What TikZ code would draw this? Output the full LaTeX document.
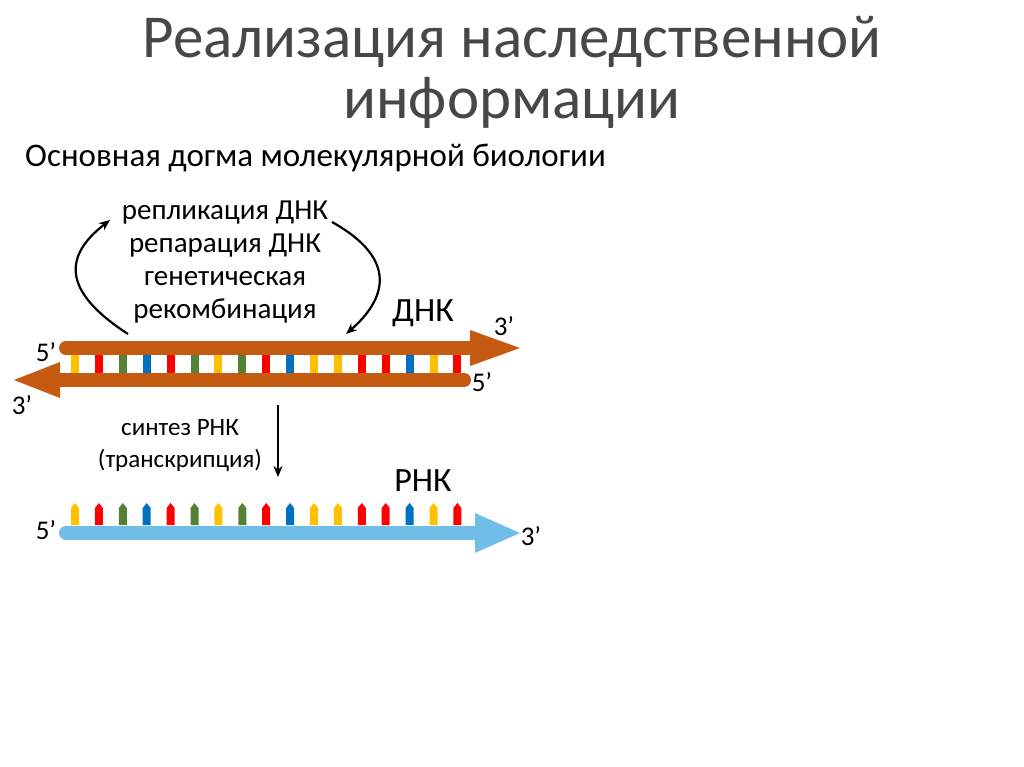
\documentclass[tikz,border=0pt]{standalone}
\usepackage{fontspec}
\setmainfont{Carlito}
\usetikzlibrary{arrows.meta}
\definecolor{dna}{HTML}{C55A11}
\definecolor{rna}{HTML}{70BEE8}
\definecolor{cy}{HTML}{FFC000}
\definecolor{cr}{HTML}{FF0000}
\definecolor{cg}{HTML}{548235}
\definecolor{cb}{HTML}{0070C0}
\begin{document}
\begin{tikzpicture}[x=1pt,y=-1pt,
  lbl/.style={font=\fontsize{27}{30}\selectfont,inner sep=0pt},
  mid/.style={font=\fontsize{29}{33}\selectfont,align=center,inner sep=0pt},
  curv/.style={-{Stealth[length=11pt,width=9pt]},line width=2.2pt}]
\useasboundingbox (0,0) rectangle (1024,767);
\node[font=\fontsize{61}{61}\selectfont,text=black!72,align=center,inner sep=0pt] (title) at (512,72) {Реализация наследственной\\информации};
\node[font=\fontsize{33}{36}\selectfont,anchor=west,inner sep=0pt] (sub) at (25,158) {Основная догма молекулярной биологии};
% bars
\def\cols{cy,cr,cg,cb,cr,cg,cy,cg,cr,cb,cy,cy,cr,cr,cb,cy,cr}
\foreach \c [count=\i from 0] in \cols {
  \fill[\c] ({75+\i*23.9-4},352) rectangle ({75+\i*23.9+4},376);
  \fill[\c] ({75+\i*23.9-4},525) -- ({75+\i*23.9-4},508) -- ({75+\i*23.9},503) -- ({75+\i*23.9+4},508) -- ({75+\i*23.9+4},525) -- cycle;
}
% DNA strands
\draw[dna,line width=14pt,line cap=round] (66,348) -- (472,348);
\fill[dna] (470,330) -- (520,348) -- (470,366) -- cycle;
\draw[dna,line width=14pt,line cap=round] (464,380) -- (58,380);
\fill[dna] (60,362) -- (14,380) -- (60,398) -- cycle;
% RNA
\draw[rna,line width=14pt,line cap=round] (66,533) -- (477,533);
\fill[rna] (475,513) -- (520,533) -- (475,553) -- cycle;
\node[lbl] (a5) at (46,352) {5’};
\node[lbl] (a3) at (504,326) {3’};
\node[lbl] (b5) at (482,382) {5’};
\node[lbl] (b3) at (22,405) {3’};
\node[lbl] (r5) at (46,530) {5’};
\node[lbl] (r3) at (531,536) {3’};
\node[font=\fontsize{34}{36}\selectfont,inner sep=0pt] (dnk) at (423,313) {ДНК};
\node[font=\fontsize{34}{36}\selectfont,inner sep=0pt] (rnk) at (423,481) {РНК};
\node[mid] (proc) at (225,262) {репликация ДНК\\репарация ДНК\\генетическая\\рекомбинация};
\node[font=\fontsize{25}{32}\selectfont,align=center,inner sep=0pt] (syn) at (180,446) {синтез РНК\\(транскрипция)};
\coordinate (l1) at (128,334); \coordinate (l2) at (110,220);
\coordinate (r1) at (332,222); \coordinate (r2) at (346,334);
\draw[curv] (l1) .. controls (60,290) and (65,255) .. (l2);
\draw[curv] (r1) .. controls (400,260) and (385,300) .. (r2);
\coordinate (d1) at (278,405); \coordinate (d2) at (278,477);
\draw[curv] (d1) -- (d2);
\end{tikzpicture}
\end{document}
